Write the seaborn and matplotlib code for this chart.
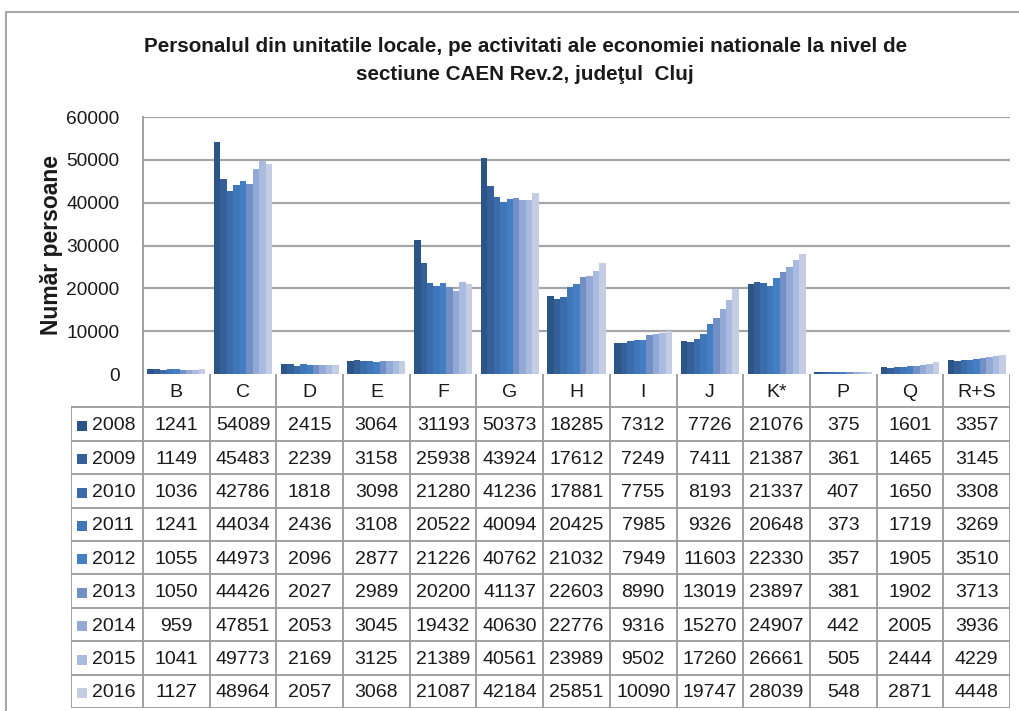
import matplotlib
matplotlib.use('Agg')
import matplotlib.pyplot as plt
import pandas as pd
import seaborn as sns
from matplotlib.patches import Rectangle

# --- data ---
categories = ['B', 'C', 'D', 'E', 'F', 'G', 'H', 'I', 'J', 'K*', 'P', 'Q', 'R+S']
years = ['2008', '2009', '2010', '2011', '2012', '2013', '2014', '2015', '2016']

val_2008 = [1241, 54089, 2415, 3064, 31193, 50373, 18285, 7312, 7726, 21076, 375, 1601, 3357]
val_2009 = [1149, 45483, 2239, 3158, 25938, 43924, 17612, 7249, 7411, 21387, 361, 1465, 3145]
val_2010 = [1036, 42786, 1818, 3098, 21280, 41236, 17881, 7755, 8193, 21337, 407, 1650, 3308]
val_2011 = [1241, 44034, 2436, 3108, 20522, 40094, 20425, 7985, 9326, 20648, 373, 1719, 3269]
val_2012 = [1055, 44973, 2096, 2877, 21226, 40762, 21032, 7949, 11603, 22330, 357, 1905, 3510]
val_2013 = [1050, 44426, 2027, 2989, 20200, 41137, 22603, 8990, 13019, 23897, 381, 1902, 3713]
val_2014 = [959, 47851, 2053, 3045, 19432, 40630, 22776, 9316, 15270, 24907, 442, 2005, 3936]
val_2015 = [1041, 49773, 2169, 3125, 21389, 40561, 23989, 9502, 17260, 26661, 505, 2444, 4229]
val_2016 = [1127, 48964, 2057, 3068, 21087, 42184, 25851, 10090, 19747, 28039, 548, 2871, 4448]

yticks = [0, 10000, 20000, 30000, 40000, 50000, 60000]

colors = ['#2c5587', '#355f99', '#3a6baa', '#3f77ba', '#447fc4',
          '#7390c6', '#93aad7', '#aabbe0', '#c4cde4']

all_vals = [val_2008, val_2009, val_2010, val_2011, val_2012,
            val_2013, val_2014, val_2015, val_2016]

rows = []
for y, vals in zip(years, all_vals):
    for c, v in zip(categories, vals):
        rows.append({'cat': c, 'year': y, 'value': v})
df = pd.DataFrame(rows)

sns.set_style('white')
plt.rcParams['font.family'] = ['Liberation Sans', 'DejaVu Sans']
txt_col = '#1a1a1a'
line_col = '#9a9a9a'

W, H = 1020, 711
fig = plt.figure(figsize=(W / 100, H / 100), dpi=100)

# outer frame (only left and top edges show)
fig.add_artist(Rectangle((6 / W, -0.2), 1.2, 1.2 - 12 / H,
                         transform=fig.transFigure, fill=False,
                         edgecolor='#a8a8a8', lw=1.5))

# --- bar chart ---
x0, x1 = 143, 1010
ax = fig.add_axes([x0 / W, 1 - 374 / H, (x1 - x0) / W, (374 - 117) / H])
sns.barplot(data=df, x='cat', y='value', hue='year', palette=colors,
            saturation=1, width=0.87, gap=0, legend=False, ax=ax)
ax.set_xlim(-0.5, len(categories) - 0.5)
ax.set_ylim(0, 60000)
ax.set_yticks(yticks)
ax.set_yticklabels([str(t) for t in yticks], fontsize=13.8, color=txt_col)
ax.tick_params(axis='y', length=0, pad=17)
ax.set_xticks([])
ax.set_xlabel('')
ax.set_ylabel('')
for t in yticks[1:]:
    ax.axhline(t, color='#a6a6a6', lw=1.6, zorder=0)
ax.set_axisbelow(True)
for s in ['top', 'right', 'bottom']:
    ax.spines[s].set_visible(False)
ax.spines['left'].set_color(line_col)
ax.spines['left'].set_linewidth(1.3)
for p in ax.patches:
    p.set_linewidth(0)

fig.text(52 / W, 1 - 245 / H, 'Număr persoane', rotation=90, ha='center', va='center',
         fontsize=16.5, fontweight='bold', color=txt_col)

fig.text(0.515, 1 - 47 / H,
         'Personalul din unitatile locale, pe activitati ale economiei nationale la nivel de',
         ha='center', va='center', fontsize=14.9, fontweight='bold', color=txt_col)
fig.text(0.515, 1 - 74 / H, 'sectiune CAEN Rev.2, judeţul  Cluj',
         ha='center', va='center', fontsize=14.9, fontweight='bold', color=txt_col)

# --- data table ---
colw = (x1 - x0) / len(categories)
lab_w = (x0 - 71) / colw
tb = fig.add_axes([71 / W, 1 - 708 / H, (x1 - 71) / W, (708 - 374) / H])
tb.set_xlim(-lab_w, len(categories))
tb.set_ylim(len(years) + 1, 0)
tb.axis('off')

ncol = len(categories)
nrow = len(years)
for j in range(ncol + 1):
    tb.plot([j, j], [0, nrow + 1], color=line_col, lw=1.3)
tb.plot([-lab_w, -lab_w], [1, nrow + 1], color=line_col, lw=1.3)
for i in range(1, nrow + 2):
    tb.plot([-lab_w, ncol], [i, i], color=line_col, lw=1.3)

for j, c in enumerate(categories):
    tb.text(j + 0.5, 0.55, c, ha='center', va='center', fontsize=14, color=txt_col)

for i, (y, vals) in enumerate(zip(years, all_vals)):
    tb.scatter([-lab_w + 0.165], [i + 1.55], marker='s', s=55, color=colors[i], lw=0)
    tb.text(-lab_w + 0.32, i + 1.55, y, ha='left', va='center', fontsize=14, color=txt_col)
    for j, v in enumerate(vals):
        tb.text(j + 0.5, i + 1.55, str(v), ha='center', va='center',
                fontsize=14, color=txt_col)

fig.savefig('out.png', dpi=100)
